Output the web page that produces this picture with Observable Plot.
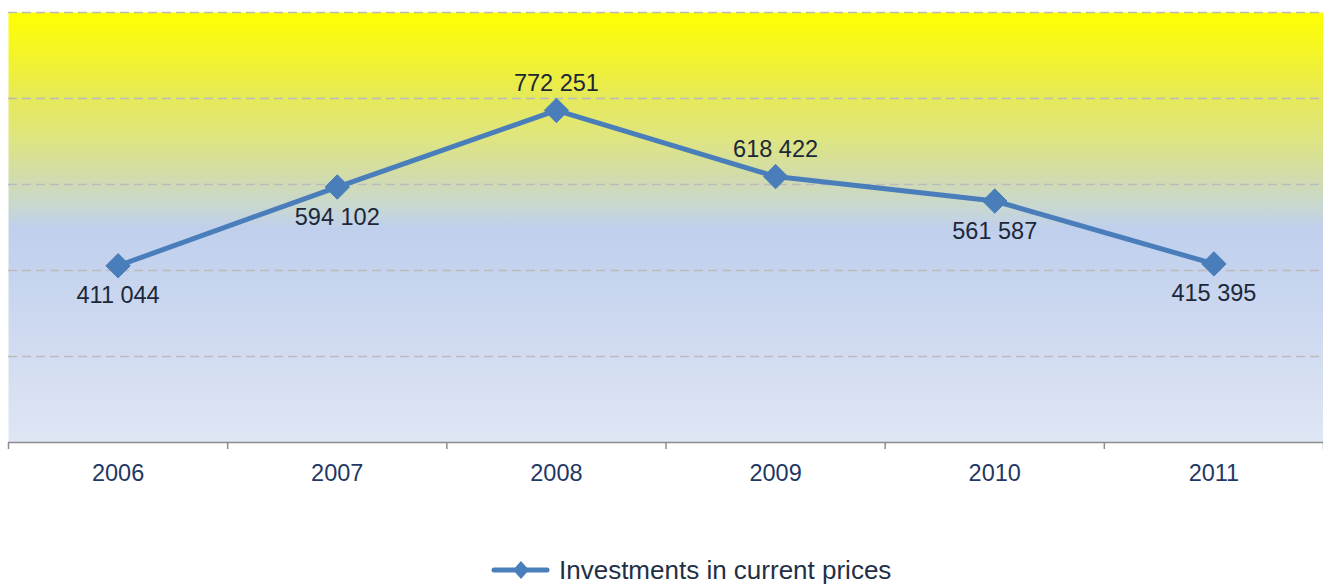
<!DOCTYPE html>
<html>
<head>
<meta charset="utf-8">
<script src="https://cdn.jsdelivr.net/npm/d3@7"></script>
<script src="https://cdn.jsdelivr.net/npm/@observablehq/plot@0.6"></script>
<style>
  html, body { margin: 0; padding: 0; background: #ffffff; }
  body { width: 1323px; height: 584px; position: relative; overflow: hidden; font-family: "Liberation Sans", Arial, sans-serif; }
  #legend { position: absolute; left: 490px; top: 554px; display: flex; align-items: center; font-size: 26px; color: #1F3046; line-height: 32px; white-space: nowrap; }
  #legend svg { margin-right: 9px; }
</style>
</head>
<body>
<div id="chart"></div>
<div id="legend"></div>
<script>
const years = [2006, 2007, 2008, 2009, 2010, 2011];
const values = [411044, 594102, 772251, 618422, 561587, 415395];
const labels = ["411 044", "594 102", "772 251", "618 422", "561 587", "415 395"];
const labelSide = ["below", "below", "above", "above", "below", "below"];
const gridValues = [200000, 400000, 600000, 800000, 1000000];
const seriesName = "Investments in current prices";
const lineColor = "#4A7EBB";

const data = years.map((y, i) => ({year: y, value: values[i], label: labels[i], side: labelSide[i]}));
const bounds = d3.range(years[0] - 0.5, years[years.length - 1] + 1, 1);

const chart = Plot.plot({
  width: 1323,
  height: 500,
  marginLeft: 8,
  marginRight: 0,
  marginTop: 12,
  marginBottom: 58,
  style: {fontFamily: "'Liberation Sans', Arial, sans-serif", background: "transparent"},
  x: {type: "linear", domain: [bounds[0], bounds[bounds.length - 1]], axis: null},
  y: {domain: [0, 1000000], axis: null},
  marks: [
    Plot.frame({fill: "url(#bgGrad)", stroke: null}),
    Plot.gridY(gridValues, {stroke: "#BBBBBB", strokeOpacity: 1, strokeWidth: 1.3, strokeDasharray: "9,5"}),
    Plot.ruleY([0], {stroke: "#8C8C8C", strokeWidth: 1.5}),
    Plot.axisX(bounds, {tickSize: 7, tickFormat: () => "", stroke: "#8C8C8C", strokeWidth: 1.5, label: null, anchor: "bottom"}),
    Plot.axisX(years, {tickSize: 0, tickPadding: 22, fontSize: 23.5, fill: "#1F3864", tickFormat: d => String(d), label: null, anchor: "bottom"}),
    Plot.line(data, {x: "year", y: "value", stroke: lineColor, strokeWidth: 5, strokeLinejoin: "round"}),
    Plot.dot(data, {x: "year", y: "value", symbol: "diamond2", r: 11, fill: lineColor, stroke: lineColor, strokeWidth: 1}),
    Plot.text(data.filter(d => d.side === "above"), {x: "year", y: "value", text: "label", dy: -27, fontSize: 23.5, fill: "#1C2738"}),
    Plot.text(data.filter(d => d.side === "below"), {x: "year", y: "value", text: "label", dy: 30, fontSize: 23.5, fill: "#1C2738"})
  ]
});

// gradient definition for the plot background
const svgNS = "http://www.w3.org/2000/svg";
const defs = document.createElementNS(svgNS, "defs");
const grad = document.createElementNS(svgNS, "linearGradient");
grad.setAttribute("id", "bgGrad");
grad.setAttribute("x1", "0"); grad.setAttribute("y1", "0");
grad.setAttribute("x2", "0"); grad.setAttribute("y2", "1");
const stops = [
  [0.00, "#FFFF00"],
  [0.10, "#F3F42A"],
  [0.20, "#E6E95A"],
  [0.28, "#E0E67A"],
  [0.38, "#D2DCAA"],
  [0.45, "#C8D8D0"],
  [0.50, "#C0D0EC"],
  [0.60, "#C5D3EE"],
  [1.00, "#DFE6F4"]
];
for (const [o, c] of stops) {
  const s = document.createElementNS(svgNS, "stop");
  s.setAttribute("offset", o);
  s.setAttribute("stop-color", c);
  grad.appendChild(s);
}
defs.appendChild(grad);
chart.insertBefore(defs, chart.firstChild);
document.getElementById("chart").appendChild(chart);

// legend
const legend = document.getElementById("legend");
const lsvg = d3.create("svg").attr("width", 60).attr("height", 24);
lsvg.append("line").attr("x1", 4).attr("x2", 57).attr("y1", 12).attr("y2", 12)
  .attr("stroke", lineColor).attr("stroke-width", 5).attr("stroke-linecap", "round");
lsvg.append("path").attr("d", "M31,3 L39,12 L31,21 L23,12 Z").attr("fill", lineColor);
legend.appendChild(lsvg.node());
const span = document.createElement("span");
span.textContent = seriesName;
legend.appendChild(span);
</script>
</body>
</html>
